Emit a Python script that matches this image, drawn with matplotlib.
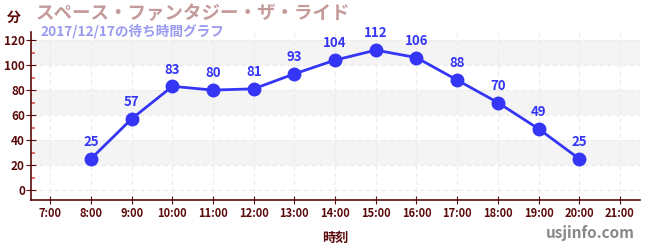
import matplotlib
matplotlib.use('Agg')
import matplotlib.pyplot as plt
from matplotlib.ticker import MultipleLocator

plt.rcParams['font.family'] = ['Noto Sans CJK JP', 'DejaVu Sans']

# data
hours = [8, 9, 10, 11, 12, 13, 14, 15, 16, 17, 18, 19, 20]
waits = [25, 57, 83, 80, 81, 93, 104, 112, 106, 88, 70, 49, 25]
tick_hours = list(range(7, 22))
tick_labels = [f'{h}:00' for h in tick_hours]

title = 'スペース・ファンタジー・ザ・ライド'
subtitle = '2017/12/17の待ち時間グラフ'

axis_col = '#5a0a0a'
line_col = '#3535f5'

fig = plt.figure(figsize=(6.5, 2.5), dpi=100)
ax = fig.add_axes([0.048, 0.2, 0.937, 0.672])

# background bands
for lo in (20, 60, 100):
    ax.axhspan(lo, lo + 20, color='#f4f4f4', zorder=0, lw=0)

ax.plot(hours, waits, color=line_col, lw=2, marker='o', ms=9, zorder=3)
for h, w in zip(hours, waits):
    ax.annotate(str(w), (h, w), xytext=(0, 7), textcoords='offset points',
                ha='center', va='bottom', color=line_col, fontsize=9.5,
                fontweight='bold', zorder=4)

ax.set_xlim(6.53, 21.5)
ax.set_ylim(-8, 126.5)
ax.set_xticks(tick_hours)
ax.set_xticklabels(tick_labels)
ax.set_yticks(range(0, 121, 20))
ax.yaxis.set_minor_locator(MultipleLocator(10))

ax.grid(True, which='major', color='#ebebeb', ls=(0, (4, 3)), lw=0.8)
ax.set_axisbelow(True)

for s in ('top', 'right'):
    ax.spines[s].set_visible(False)
for s in ('left', 'bottom'):
    ax.spines[s].set_color(axis_col)
    ax.spines[s].set_linewidth(1.2)

ax.tick_params(axis='x', which='major', direction='inout', length=6,
               colors=axis_col, labelsize=8, pad=2)
ax.tick_params(axis='y', which='major', direction='inout', length=7,
               colors=axis_col, labelsize=8.5, pad=1)
ax.tick_params(axis='y', which='minor', direction='in', length=3,
               color='#e05050', width=1.2)
for lab in ax.get_xticklabels() + ax.get_yticklabels():
    lab.set_fontweight('bold')
    lab.set_color(axis_col)

ax.set_xlabel('時刻', color=axis_col, fontsize=9.5, fontweight='bold', labelpad=8)

fig.text(0.022, 0.93, '分', color=axis_col, fontsize=10, fontweight='bold',
         ha='center', va='center')
fig.text(0.054, 0.945, title, color='#c49a9a', fontsize=13.3, fontweight='bold',
         ha='left', va='center')
fig.text(0.062, 0.875, subtitle, color='#9a9af0', fontsize=9.8,
         fontweight='bold', ha='left', va='center')
fig.text(0.977, 0.068, 'usjinfo.com', color='#888888', fontsize=11,
         fontweight='bold', ha='right', va='center')

fig.savefig('out.png', dpi=100)
